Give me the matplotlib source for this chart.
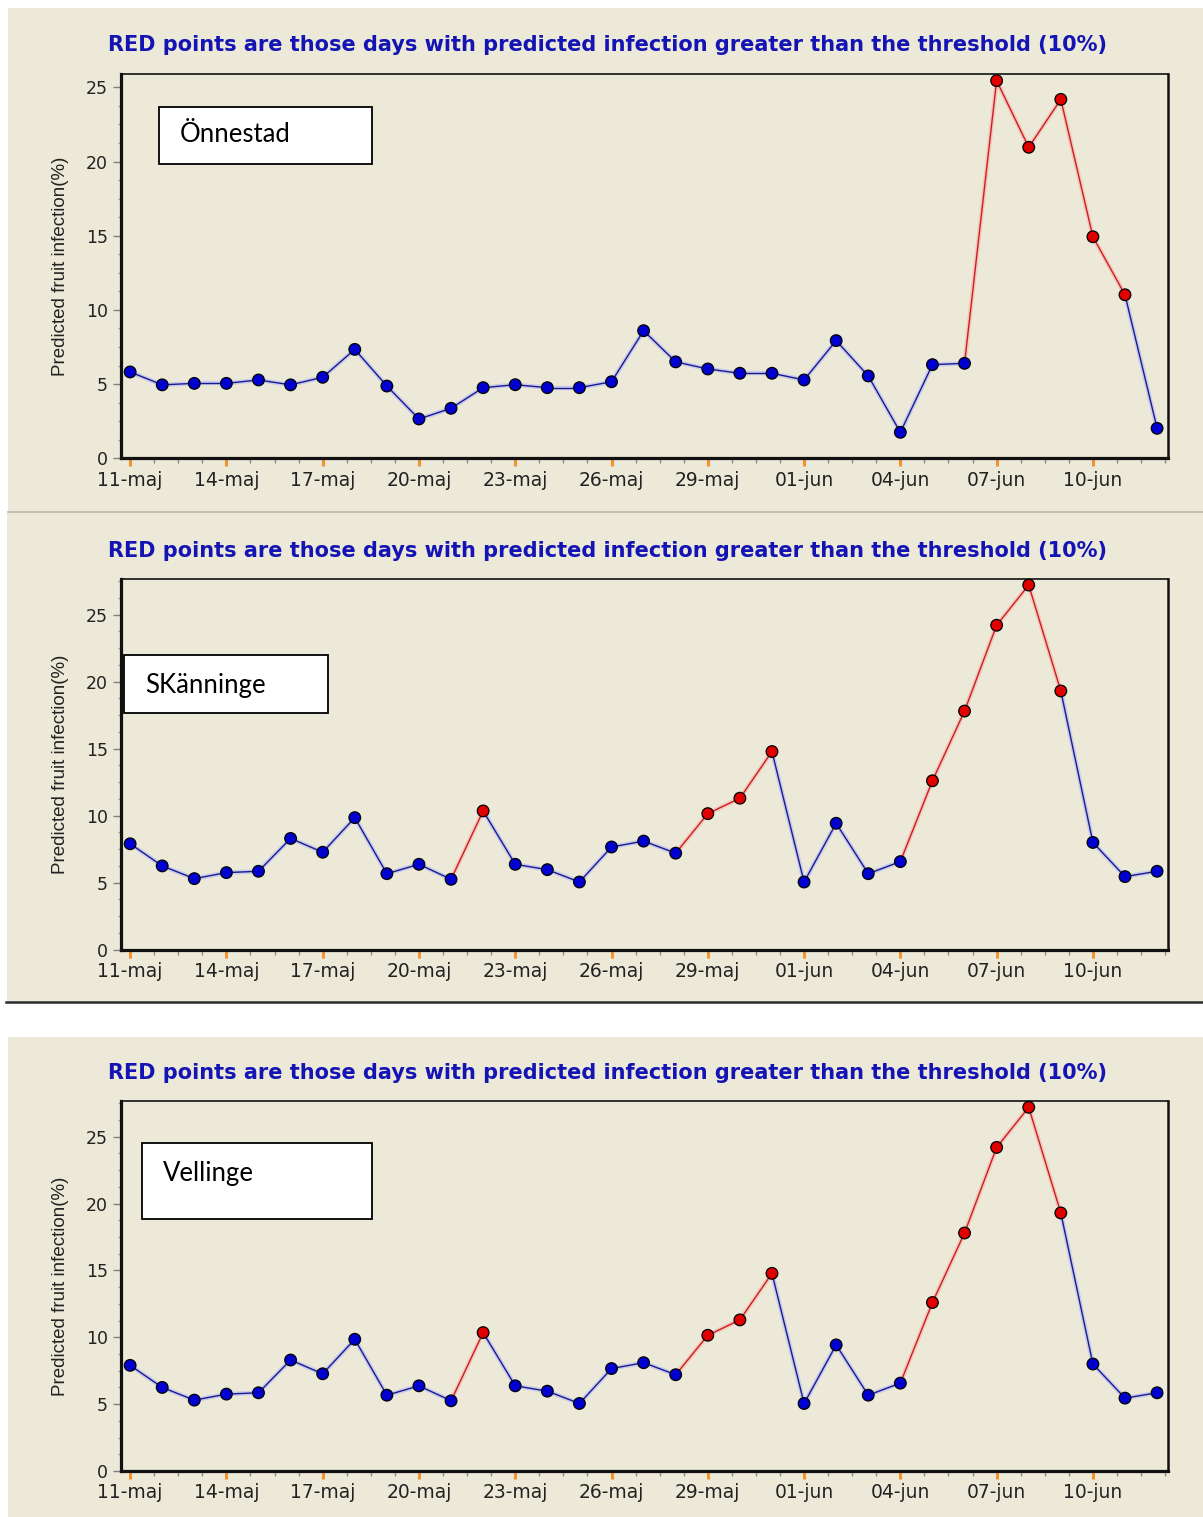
import numpy as np
import matplotlib.pyplot as plt
from matplotlib.patches import Rectangle
from matplotlib.lines import Line2D
from matplotlib.ticker import FixedLocator, MultipleLocator

# ---- data ----
tick_labels = ["11-maj", "14-maj", "17-maj", "20-maj", "23-maj", "26-maj",
               "29-maj", "01-jun", "04-jun", "07-jun", "10-jun"]
stations = ["Önnestad", "SKänninge", "Vellinge"]
threshold = 10  # percent

# one value per day, 11-maj .. 12-jun
onnestad = [5.82, 4.95, 5.05, 5.05, 5.28, 4.95, 5.46, 7.34, 4.87, 2.65, 3.37,
            4.76, 4.96, 4.76, 4.76, 5.16, 8.6, 6.5, 6.02, 5.73, 5.73, 5.28,
            7.93, 5.55, 1.75, 6.31, 6.4, 25.45, 20.96, 24.19, 14.93, 11.02, 2.02]
skanninge = [7.9, 6.25, 5.3, 5.75, 5.85, 8.3, 7.27, 9.85, 5.67, 6.37, 5.25,
             10.35, 6.37, 5.97, 5.05, 7.66, 8.1, 7.2, 10.15, 11.3, 14.78, 5.05,
             9.43, 5.67, 6.57, 12.6, 17.8, 24.2, 27.2, 19.3, 8.0, 5.45, 5.85]
vellinge = [7.9, 6.25, 5.3, 5.75, 5.85, 8.3, 7.27, 9.85, 5.67, 6.37, 5.25,
            10.35, 6.37, 5.97, 5.05, 7.66, 8.1, 7.2, 10.15, 11.3, 14.78, 5.05,
            9.43, 5.67, 6.57, 12.6, 17.8, 24.2, 27.2, 19.3, 8.0, 5.45, 5.85]

title = "RED points are those days with predicted infection greater than the threshold (10%)"
ylabel = "Predicted fruit infection(%)"

# ---- styling ----
plt.rcParams["font.family"] = ["DejaVu Sans"]
W, H = 1203, 1517
beige = "#ece9d8"
blue_pt, red_pt = "#0000d0", "#e00000"
blue_ln, red_ln = "#1a1a90", "#c82020"
blue_halo, red_halo = "#9fa8ff", "#ff9c9c"
orange = "#f0962d"

fig = plt.figure(figsize=(W / 100, H / 100), dpi=100)
fig.patch.set_facecolor("white")


def fx(x):
    return x / W


def fy(y):
    return 1 - y / H


def fig_rect(x0, y0, x1, y1, **kw):
    r = Rectangle((fx(x0), fy(y1)), fx(x1) - fx(x0), fy(y0) - fy(y1),
                  transform=fig.transFigure, **kw)
    fig.add_artist(r)


# panel backgrounds and separators
fig_rect(8, 8, 1203, 511, facecolor=beige, edgecolor="none", zorder=-2)
fig_rect(7, 513, 1203, 1001, facecolor=beige, edgecolor="none", zorder=-2)
fig_rect(8, 1037, 1203, 1517, facecolor=beige, edgecolor="none", zorder=-2)
fig.add_artist(Line2D([fx(8), 1], [fy(512), fy(512)], color="#b4b4ac", lw=1.2,
                      transform=fig.transFigure, zorder=-1))
fig.add_artist(Line2D([fx(6), 1], [fy(1002), fy(1002)], color="#2a2a2a", lw=1.8,
                      transform=fig.transFigure, zorder=-1))

# layout per panel: axes box (l, t, r, b) px, y max, title y, label box, label text xy
layout = [
    dict(ax=(120.5, 74, 1168, 458.3), ymax=25.9, ty=45,
         box=(159, 107, 372, 164), txt=(180, 135)),
    dict(ax=(120.5, 579, 1168, 949.7), ymax=27.65, ty=551,
         box=(124, 655, 328, 713), txt=(145, 685)),
    dict(ax=(120.5, 1101, 1168, 1471), ymax=27.67, ty=1073,
         box=(142, 1143, 372, 1219), txt=(163, 1173)),
]
series = [onnestad, skanninge, vellinge]

for vals, name, lay in zip(series, stations, layout):
    l, t, r, b = lay["ax"]
    ax = fig.add_axes([fx(l), fy(b), fx(r) - fx(l), fy(t) - fy(b)])
    ax.set_facecolor(beige)
    ax.set_xlim(-0.3, 32.34)
    ax.set_ylim(0, lay["ymax"])

    x = np.arange(len(vals))
    v = np.array(vals)
    hot = v > threshold
    # segment takes the colour of the day it ends on
    for i in range(len(v) - 1):
        ln, halo = (red_ln, red_halo) if hot[i + 1] else (blue_ln, blue_halo)
        ax.plot(x[i:i + 2], v[i:i + 2], color=halo, lw=3.2, alpha=0.45,
                solid_capstyle="round", zorder=2, clip_on=False)
        ax.plot(x[i:i + 2], v[i:i + 2], color=ln, lw=1.0, zorder=3, clip_on=False)
    ax.scatter(x, v, c=np.where(hot, red_pt, blue_pt), s=70, marker="o",
               edgecolors="black", linewidths=0.9, zorder=4, clip_on=False)

    ax.set_xticks(np.arange(0, len(vals), 3))
    ax.set_xticklabels(tick_labels)
    ax.xaxis.set_minor_locator(FixedLocator(np.arange(0, 32.4, 0.75)))
    ax.set_yticks(np.arange(0, 26, 5))
    ax.yaxis.set_minor_locator(MultipleLocator(1.25))
    ax.tick_params(axis="x", which="major", direction="out", length=6, width=2.2,
                   color=orange, labelsize=13.5, labelcolor="#222222", pad=3)
    ax.tick_params(axis="x", which="minor", direction="out", length=3.5, width=1,
                   color="#8c8c8c")
    ax.tick_params(axis="y", which="major", direction="out", length=6, width=1,
                   color="#808080", labelsize=12.5, labelcolor="#222222", pad=3)
    ax.tick_params(axis="y", which="minor", direction="out", length=2.5, width=1,
                   color="#a0a0a0")
    for lab in ax.get_xticklabels() + ax.get_yticklabels():
        lab.set_family("DejaVu Sans")

    ax.spines["left"].set_linewidth(2.3)
    ax.spines["bottom"].set_linewidth(2.3)
    ax.spines["top"].set_linewidth(1.2)
    ax.spines["right"].set_linewidth(1.8)
    for s in ax.spines.values():
        s.set_color("#111111")

    fig.text(fx(607), fy(lay["ty"]), title, ha="center", va="center",
             fontsize=15, fontweight="bold", color="#1414b4",
             family="DejaVu Sans")
    fig.text(fx(61), fy((t + b) / 2), ylabel, rotation=90, ha="center",
             va="center", fontsize=13.5, color="#222222",
             family=["Liberation Sans", "DejaVu Sans"])

    bx0, by0, bx1, by1 = lay["box"]
    fig_rect(bx0, by0, bx1, by1, facecolor="white", edgecolor="black", lw=1.3,
             zorder=5)
    fig.text(fx(lay["txt"][0]), fy(lay["txt"][1]), name, ha="left", va="center",
             fontsize=18.5, color="black", family=["Lato", "DejaVu Sans"], zorder=6)

fig.savefig("out.png", dpi=100, facecolor=fig.get_facecolor())
